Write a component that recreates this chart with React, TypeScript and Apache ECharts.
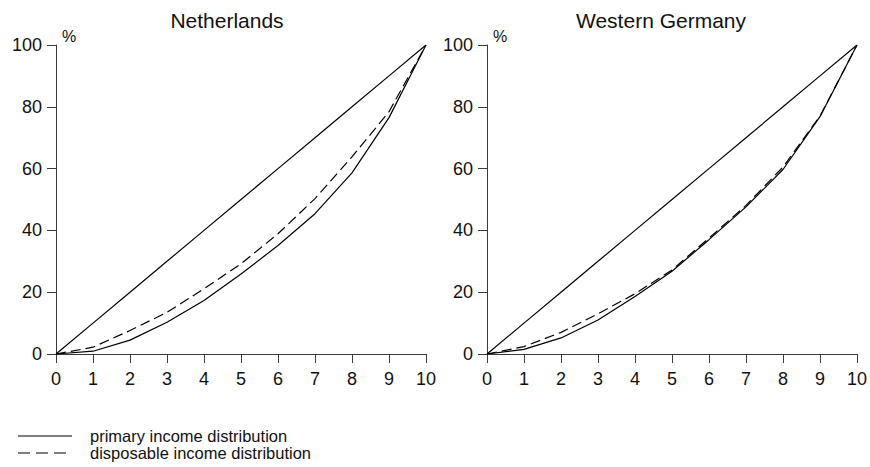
import React, { useEffect, useRef } from "react";
import * as echarts from "echarts";

// Cumulative population deciles (x) and cumulative income share in % (y)
const deciles = [0, 1, 2, 3, 4, 5, 6, 7, 8, 9, 10];
const equality = [0, 10, 20, 30, 40, 50, 60, 70, 80, 90, 100];

const nlPrimary = [0, 0.9, 4.5, 10.3, 17.3, 25.9, 35.1, 45.4, 58.6, 76.5, 100];
const nlDisposable = [0, 2.2, 7.6, 13.5, 21.1, 29.2, 38.9, 50.3, 63.8, 78.4, 100];

const dePrimary = [0, 1.5, 5.2, 11.0, 18.6, 26.8, 37.0, 47.6, 59.7, 76.8, 100];
const deDisposable = [0, 2.4, 7.0, 13.0, 19.5, 27.2, 37.5, 48.1, 60.5, 77.0, 100];

const yTicks = [0, 20, 40, 60, 80, 100];
const titles = ["Netherlands", "Western Germany"];
const legendNames = ["primary income distribution", "disposable income distribution"];

const FONT = "'Liberation Sans', Arial, Helvetica, sans-serif";
const AXIS_COLOR = "#3a3a3a";

const pairs = (ys: number[]) => deciles.map((x, i) => [x, ys[i]]);

export default function App() {
  const ref = useRef<HTMLDivElement>(null);

  useEffect(() => {
    if (!ref.current) return;
    const chart = echarts.init(ref.current, undefined, { renderer: "svg" });

    const grids = [
      { left: 56, right: 444, top: 45, bottom: 113 },
      { left: 487, right: 13, top: 45, bottom: 113 },
    ];

    const xAxis = grids.map((_, i) => ({
      type: "value",
      gridIndex: i,
      min: 0,
      max: 10,
      interval: 1,
      axisLine: { show: true, lineStyle: { color: AXIS_COLOR, width: 1 } },
      axisTick: { show: true, length: 9, lineStyle: { color: AXIS_COLOR } },
      axisLabel: { color: "#111", fontSize: 18, fontFamily: FONT, margin: 16 },
      splitLine: { show: false },
    }));

    const yAxis = grids.map((_, i) => ({
      type: "value",
      gridIndex: i,
      min: 0,
      max: 100,
      interval: 20,
      name: "%",
      nameLocation: "end",
      nameGap: 1,
      nameTextStyle: {
        color: "#111",
        fontSize: 16,
        fontFamily: FONT,
        align: "left",
        padding: [0, 0, 0, 6],
      },
      axisLine: { show: true, lineStyle: { color: AXIS_COLOR, width: 1 } },
      axisTick: { show: true, length: 9, lineStyle: { color: AXIS_COLOR } },
      axisLabel: {
        color: "#111",
        fontSize: 18,
        fontFamily: FONT,
        margin: 14,
        formatter: (v: number) => (yTicks.includes(v) ? String(v) : ""),
      },
      splitLine: { show: false },
    }));

    const lineSeries = (name: string, data: number[], idx: number, dashed: boolean) => ({
      name,
      type: "line",
      xAxisIndex: idx,
      yAxisIndex: idx,
      data: pairs(data),
      showSymbol: false,
      symbol: "none",
      lineStyle: { color: "#000", width: 1.2, type: dashed ? [10, 5] : "solid" },
      silent: true,
    });

    const series = [
      lineSeries("equality", equality, 0, false),
      lineSeries(legendNames[0], nlPrimary, 0, false),
      lineSeries(legendNames[1], nlDisposable, 0, true),
      lineSeries("equality", equality, 1, false),
      lineSeries(legendNames[0], dePrimary, 1, false),
      lineSeries(legendNames[1], deDisposable, 1, true),
    ];

    // Hand-drawn legend: line sample followed by its label
    const legendY = [436, 453];
    const graphic: any[] = [];
    legendNames.forEach((name, i) => {
      graphic.push({
        type: "line",
        shape: { x1: 18, y1: legendY[i], x2: 72, y2: legendY[i] },
        style: {
          stroke: "#000",
          lineWidth: 1.2,
          lineDash: i === 1 ? [12, 6] : null,
        },
      });
      graphic.push({
        type: "text",
        x: 90,
        y: legendY[i],
        style: {
          text: name,
          fill: "#111",
          font: `16.5px ${FONT}`,
          lineHeight: 16,
          verticalAlign: "middle",
        },
      });
    });

    const titleStyle = { color: "#111", fontSize: 21, fontWeight: "normal", fontFamily: FONT };

    chart.setOption({
      animation: false,
      backgroundColor: "#fff",
      title: [
        { text: titles[0], left: 222, top: 5, textAlign: "center", textStyle: titleStyle },
        { text: titles[1], left: 656, top: 5, textAlign: "center", textStyle: titleStyle },
      ],
      grid: grids,
      xAxis,
      yAxis,
      series,
      graphic,
    });

    return () => chart.dispose();
  }, []);

  return (
    <div
      ref={ref}
      style={{ width: 870, height: 467, position: "absolute", left: 0, top: 0 }}
    />
  );
}
